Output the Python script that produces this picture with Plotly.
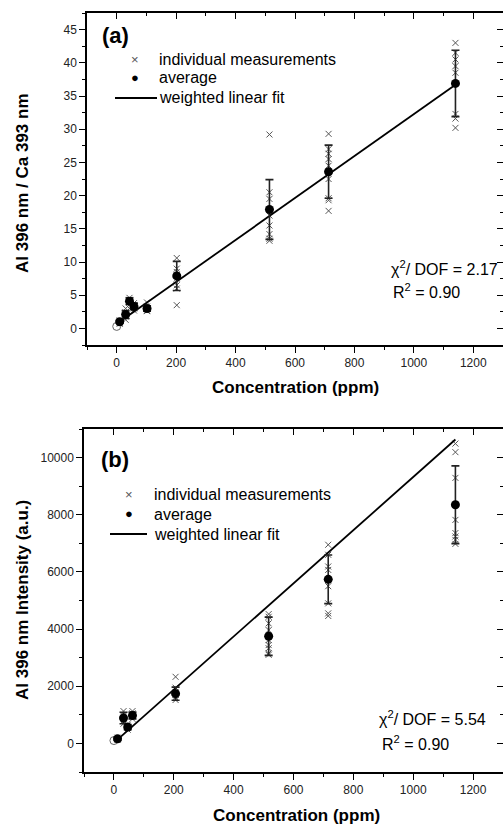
import plotly.graph_objects as go

# ---------------- Panel (a): Al 396 nm / Ca 393 nm ----------------
a_conc = [10, 30, 43, 58, 102, 202, 514, 713, 1140]
a_avg = [1.0, 2.1, 4.1, 3.3, 3.0, 7.9, 17.9, 23.6, 36.9]
a_err = [0.2, 0.6, 0.5, 0.5, 0.4, 2.2, 4.5, 4.0, 5.0]
a_indiv = [
    [1.2, 1.0, 0.8, 0.7],
    [3.0, 2.4, 1.8, 1.3],
    [4.6, 4.3, 3.9, 3.6, 3.0],
    [3.8, 3.5, 3.0, 2.7],
    [3.9, 3.3, 3.0, 2.7, 2.6],
    [10.6, 9.0, 8.5, 8.0, 7.5, 6.5, 6.0, 3.5],
    [29.2, 20.5, 19.5, 17.0, 15.5, 14.2, 13.5, 13.2],
    [29.3, 27.0, 26.3, 25.5, 24.5, 22.5, 19.6, 19.3, 17.7],
    [43.0, 41.5, 40.5, 39.5, 38.5, 32.3, 31.6, 30.2],
]
a_blank = [0, 0.3]
a_fit_slope = 0.0316
a_fit_intercept = 0.68
a_fit_span = [10, 1140]
a_chi = "2.17"
a_r2 = "0.90"

# ---------------- Panel (b): Al 396 nm intensity ----------------
b_conc = [12, 32, 46, 62, 206, 517, 716, 1141]
b_avg = [160, 890, 570, 980, 1740, 3750, 5740, 8350]
b_err = [60, 200, 90, 120, 230, 670, 850, 1360]
b_indiv = [
    [200, 150, 120],
    [1130, 1000, 800, 690],
    [650, 560, 480],
    [1130, 1050, 950, 860],
    [2330, 1950, 1800, 1700, 1600, 1520],
    [4525, 4430, 4200, 3965, 3615, 3440, 3330, 3150, 3100],
    [6950, 6600, 6190, 6070, 5500, 4900, 4550, 4460],
    [10490, 10190, 9290, 7820, 7360, 7240, 7120, 6980],
]
b_blank = [0, 100]
b_fit_slope = 9.3
b_fit_intercept = 20
b_fit_span = [10, 1141]
b_chi = "5.54"
b_r2 = "0.90"

legend_labels = ["individual measurements", "average", "weighted linear fit"]

x_range = [-100, 1300]
a_y_range = [-2.5, 47.5]
b_y_range = [-1000, 11000]

FONT = "Liberation Sans, Arial, sans-serif"
W, H = 503, 825


def flat(conc, indiv):
    xs, ys = [], []
    for c, vals in zip(conc, indiv):
        for v in vals:
            xs.append(c)
            ys.append(v)
    return xs, ys


fig = go.Figure()


def add_panel(conc, avg, err, indiv, blank, slope, intercept, span, xa, ya):
    ix, iy = flat(conc, indiv)
    fig.add_trace(go.Scatter(
        x=ix, y=iy, mode="markers", name=legend_labels[0], showlegend=False,
        marker=dict(symbol="x-thin", size=6, line=dict(color="#555", width=1)),
        xaxis=xa, yaxis=ya))
    fig.add_trace(go.Scatter(
        x=[blank[0]], y=[blank[1]], mode="markers", showlegend=False,
        marker=dict(symbol="circle-open", size=8, color="#666", line=dict(width=1)),
        xaxis=xa, yaxis=ya))
    fx = span
    fy = [slope * v + intercept for v in fx]
    fig.add_trace(go.Scatter(
        x=fx, y=fy, mode="lines", name=legend_labels[2], showlegend=False,
        line=dict(color="black", width=1.8), xaxis=xa, yaxis=ya))
    fig.add_trace(go.Scatter(
        x=conc, y=avg, mode="markers", name=legend_labels[1], showlegend=False,
        marker=dict(symbol="circle", size=9, color="black"),
        error_y=dict(type="data", array=err, visible=True, color="#222",
                     thickness=1.6, width=4),
        xaxis=xa, yaxis=ya))


add_panel(a_conc, a_avg, a_err, a_indiv, a_blank, a_fit_slope, a_fit_intercept,
          a_fit_span, "x", "y")
add_panel(b_conc, b_avg, b_err, b_indiv, b_blank, b_fit_slope, b_fit_intercept,
          b_fit_span, "x2", "y2")

# dummy traces for mirrored (inward) top/right tick axes
fig.add_trace(go.Scatter(x=[None], y=[None], xaxis="x3", yaxis="y3", showlegend=False))
fig.add_trace(go.Scatter(x=[None], y=[None], xaxis="x4", yaxis="y4", showlegend=False))

a_xdom = [87 / W, 1.0]
b_xdom = [84 / W, 1.0]
a_ydom = [1 - 345 / H, 1 - 13 / H]
b_ydom = [1 - 772 / H, 1 - 429 / H]

tickfont = dict(family=FONT, size=12, color="#222")


def xax(dom, anchor, rng, **kw):
    d = dict(domain=dom, anchor=anchor, range=rng, showgrid=False, zeroline=False,
             showline=True, linecolor="black", linewidth=1.5,
             ticks="outside", ticklen=6, tickwidth=1.3, tickcolor="black",
             dtick=200, tick0=0, tickfont=tickfont, tickformat="d",
             minor=dict(ticks="outside", dtick=100, ticklen=3, tickwidth=1.2,
                        tickcolor="black"))
    d.update(kw)
    return d


def yax(dom, anchor, rng, dt, mdt, **kw):
    d = dict(domain=dom, anchor=anchor, range=rng, showgrid=False, zeroline=False,
             showline=True, linecolor="black", linewidth=1.5,
             ticks="outside", ticklen=6, tickwidth=1.3, tickcolor="black",
             dtick=dt, tick0=0, tickfont=tickfont, tickformat="d",
             minor=dict(ticks="outside", dtick=mdt, ticklen=3, tickwidth=1.2,
                        tickcolor="black"))
    d.update(kw)
    return d


inside_minor = lambda dt: dict(ticks="inside", dtick=dt, ticklen=3, tickwidth=1.2,
                               tickcolor="black")

fig.update_layout(
    width=W, height=H, margin=dict(l=0, r=0, t=0, b=0),
    paper_bgcolor="white", plot_bgcolor="white", showlegend=False,
    font=dict(family=FONT, color="black"),
    xaxis=xax(a_xdom, "y", x_range),
    yaxis=yax(a_ydom, "x", a_y_range, 5, 2.5),
    xaxis2=xax(b_xdom, "y2", x_range),
    yaxis2=yax(b_ydom, "x2", b_y_range, 2000, 1000),
    xaxis3=xax(a_xdom, "y", x_range, overlaying="x", side="top", ticks="inside",
               showticklabels=False, minor=inside_minor(100)),
    yaxis3=yax(a_ydom, "x", a_y_range, 5, 2.5, overlaying="y", side="right",
               ticks="inside", showticklabels=False, minor=inside_minor(2.5)),
    xaxis4=xax(b_xdom, "y2", x_range, overlaying="x2", side="top", ticks="inside",
               showticklabels=False, minor=inside_minor(100)),
    yaxis4=yax(b_ydom, "x2", b_y_range, 2000, 1000, overlaying="y2", side="right",
               ticks="inside", showticklabels=False, minor=inside_minor(1000)),
)

ann = []
shapes = []


def paper_ann(x, y, text, size, xanchor="left", color="black", angle=0):
    ann.append(dict(x=x / W, y=1 - y / H, text=text, xanchor=xanchor,
                    yanchor="middle", xref="paper", yref="paper", showarrow=False,
                    textangle=angle, font=dict(family=FONT, size=size, color=color)))


# panel labels
paper_ann(100, 35, "<b>(a)</b>", 22)
paper_ann(99, 459, "<b>(b)</b>", 22)

# legend keys (drawn as figure decorations)
for (sx, tx, l0, l1, rows) in [(135, 157, 115, 157, (59, 78, 98)),
                                (129, 152, 110, 147, (494, 514, 534))]:
    paper_ann(sx, rows[0], "×", 13, xanchor="center", color="#555")
    paper_ann(sx, rows[1] - 1, "●", 13, xanchor="center")
    shapes.append(dict(type="line", xref="paper", yref="paper",
                       x0=l0 / W, x1=l1 / W, y0=1 - rows[2] / H, y1=1 - rows[2] / H,
                       line=dict(color="black", width=1.8)))
    for r, lab in zip(rows, legend_labels):
        paper_ann(tx, r, lab, 16)

# fit statistics
paper_ann(389, 268, "χ<sup>2</sup>/ DOF = " + a_chi, 16)
paper_ann(391, 291, "R<sup>2</sup> = " + a_r2, 16)
paper_ann(377, 718, "χ<sup>2</sup>/ DOF = " + b_chi, 16)
paper_ann(380, 743, "R<sup>2</sup> = " + b_r2, 16)

# axis titles
paper_ann(295, 388, "<b>Concentration (ppm)</b>", 17, xanchor="center")
paper_ann(296, 815, "<b>Concentration (ppm)</b>", 17, xanchor="center")
paper_ann(22, 183, "<b>Al 396 nm / Ca 393 nm</b>", 17, xanchor="center", angle=-90)
paper_ann(22, 600, "<b>Al 396 nm Intensity (a.u.)</b>", 17, xanchor="center", angle=-90)

fig.update_layout(annotations=ann, shapes=shapes)
fig.write_html("out.html",
               config={"displayModeBar": False},
               post_script="document.body.style.margin='0px';"
                           "document.body.style.overflow='hidden';")
